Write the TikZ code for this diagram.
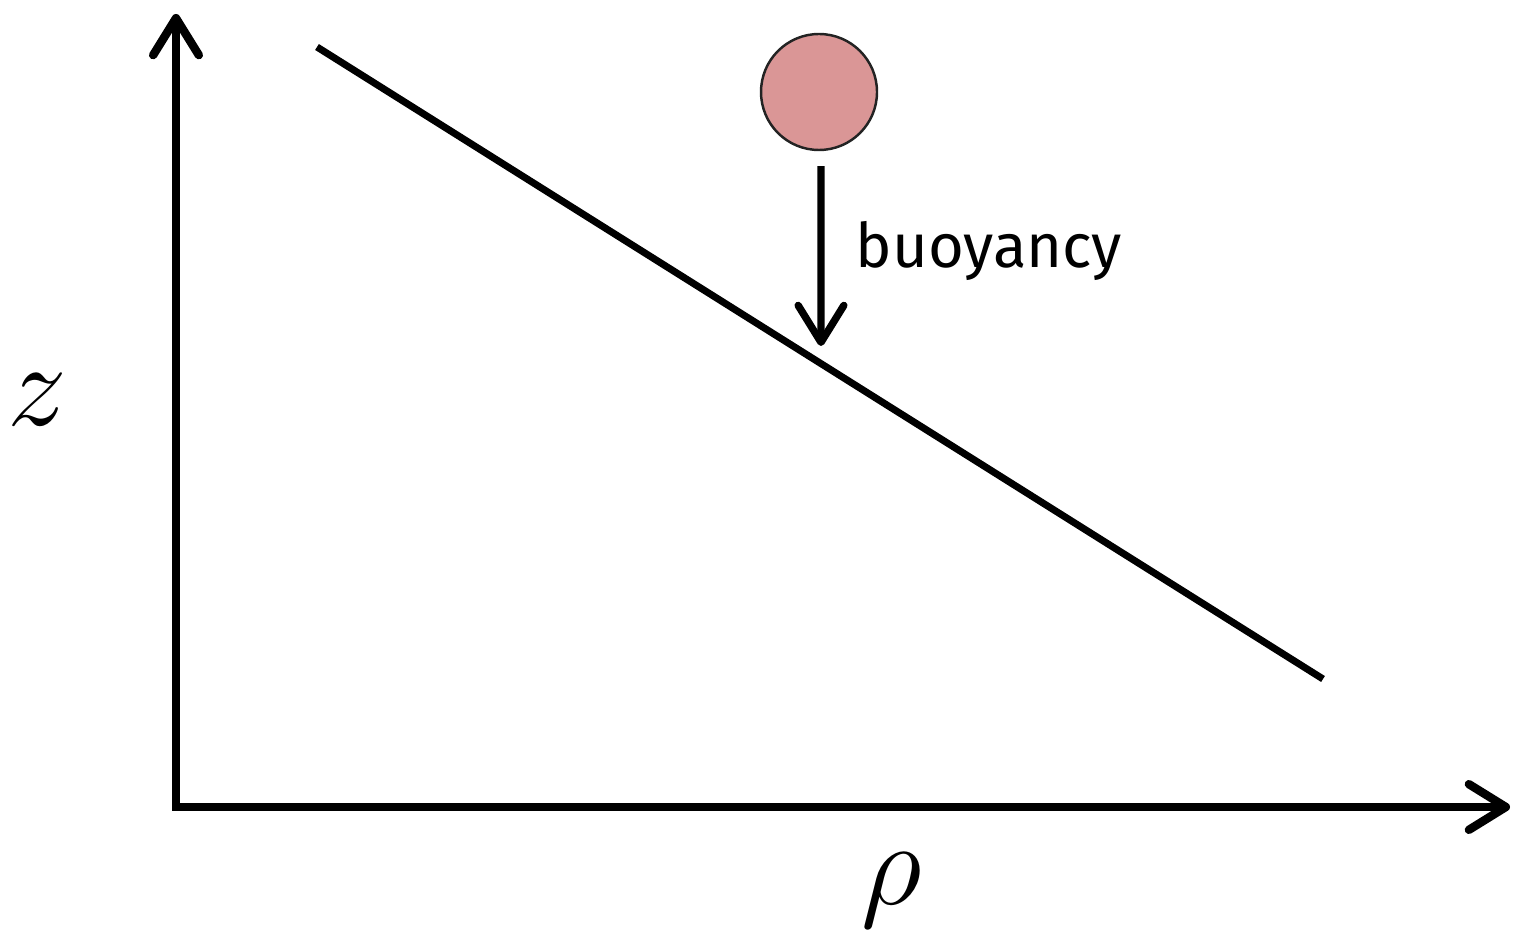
\RequirePackage{fix-cm}
\documentclass[tikz,border=0pt]{standalone}
\usepackage{fontspec}
\usepackage{tikz}
\usetikzlibrary{arrows.meta, positioning, calc}
\newfontfamily\labelfont{Fira Sans}
\definecolor{ballpink}{RGB}{218,150,150}
\definecolor{ballrim}{RGB}{35,35,35}
\tikzset{
  barb/.tip    = {Straight Barb[round, length=10.5pt, width=13pt]},
  axis/.style  = {line width=2.4pt, line join=miter, barb-barb},
  profile/.style = {line width=2pt},
  ball/.style  = {circle, draw=ballrim, line width=0.7pt, fill=ballpink,
                  minimum size=1.16cm, inner sep=0pt},
  force/.style = {line width=2.1pt, -barb},
  axlabel/.style = {font=\fontsize{34}{40}\selectfont},
}

\begin{document}
\begin{tikzpicture}
  \useasboundingbox (0,0) rectangle (15.16,9.32);

  % axes
  \coordinate (origin) at (1.76,1.25);
  \coordinate (ytop)   at (1.76,9.18);
  \coordinate (xtip)   at (15.10,1.25);
  \draw[axis] (ytop) -- (origin) -- (xtip);

  \node[axlabel] (zlab)   at (0.37,5.32) {$z$};
  \node[axlabel] (rholab) at (8.92,0.42) {$\rho$};

  % density profile
  \coordinate (pa) at (3.17,8.85);
  \coordinate (pb) at (13.23,2.53);
  \draw[profile] (pa) -- (pb);

  % parcel and buoyancy
  \node[ball] (parcel) at (8.19,8.40) {};
  \coordinate (hit) at (8.21,5.86);
  \draw[force] ($(parcel.south)+(0.02,-0.15)$) -- (hit);
  \node[anchor=base west, inner sep=0pt, font=\labelfont\fontsize{17.5}{22}\selectfont]
    (buoy) at (8.55,6.64) {buoyancy};

\end{tikzpicture}
\end{document}
